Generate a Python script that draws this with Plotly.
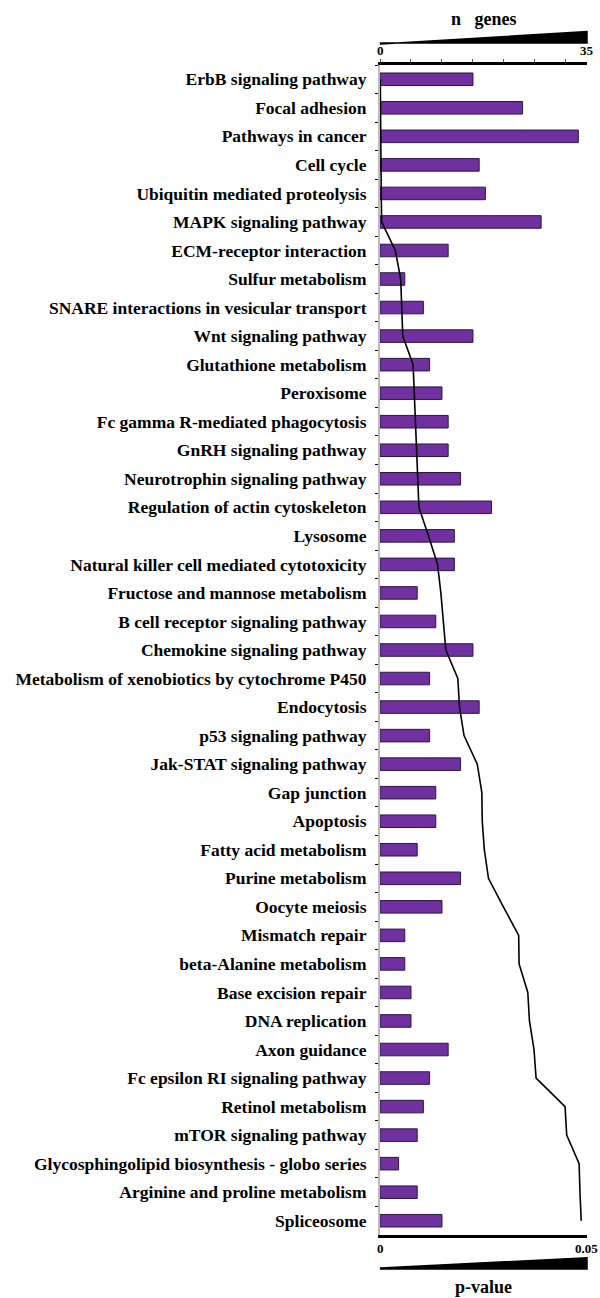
import plotly.graph_objects as go

pathways = [
    "ErbB signaling pathway", "Focal adhesion", "Pathways in cancer", "Cell cycle",
    "Ubiquitin mediated proteolysis", "MAPK signaling pathway", "ECM-receptor interaction",
    "Sulfur metabolism", "SNARE interactions in vesicular transport", "Wnt signaling pathway",
    "Glutathione metabolism", "Peroxisome", "Fc gamma R-mediated phagocytosis",
    "GnRH signaling pathway", "Neurotrophin signaling pathway", "Regulation of actin cytoskeleton",
    "Lysosome", "Natural killer cell mediated cytotoxicity", "Fructose and mannose metabolism",
    "B cell receptor signaling pathway", "Chemokine signaling pathway",
    "Metabolism of xenobiotics by cytochrome P450", "Endocytosis", "p53 signaling pathway",
    "Jak-STAT signaling pathway", "Gap junction", "Apoptosis", "Fatty acid metabolism",
    "Purine metabolism", "Oocyte meiosis", "Mismatch repair", "beta-Alanine metabolism",
    "Base excision repair", "DNA replication", "Axon guidance", "Fc epsilon RI signaling pathway",
    "Retinol metabolism", "mTOR signaling pathway", "Glycosphingolipid biosynthesis - globo series",
    "Arginine and proline metabolism", "Spliceosome",
]

n_genes = [15, 23, 32, 16, 17, 26, 11, 4, 7, 15,
           8, 10, 11, 11, 13, 18, 12, 12, 6, 9, 15,
           8, 16, 8, 13, 9, 9, 6, 13, 10, 4,
           4, 5, 5, 11, 8, 7, 6, 3, 6, 10]

p_values = [0.00007, 0.0001, 0.0002, 0.00025, 0.0003, 0.0004, 0.0037, 0.0050, 0.0052, 0.0055,
            0.0080, 0.0083, 0.0086, 0.0089, 0.0091, 0.0094, 0.0117, 0.0139, 0.0147, 0.0153, 0.0159,
            0.0188, 0.0192, 0.0203, 0.0235, 0.0246, 0.0247, 0.0252, 0.0262, 0.0298, 0.0335,
            0.0336, 0.0357, 0.0361, 0.0372, 0.0377, 0.0447, 0.0451, 0.0481, 0.0483, 0.0486]

gene_axis_max = 33.4
gene_ticks = [0, 5, 10, 15, 20, 25, 30]
p_axis_max = 0.05

FONT = "Liberation Serif"

fig = go.Figure()
fig.add_trace(go.Bar(
    x=n_genes, y=pathways, orientation="h", xaxis="x", yaxis="y",
    marker=dict(color="#7030A0", line=dict(color="#2a1840", width=1)),
    width=0.44, showlegend=False,
))
fig.add_trace(go.Scatter(
    x=p_values, y=pathways, xaxis="x2", yaxis="y", mode="lines",
    line=dict(color="black", width=1.6), showlegend=False,
))

n_cat = len(pathways)

fig.update_layout(
    width=600, height=1298,
    margin=dict(l=380, r=13, t=65, b=63),
    paper_bgcolor="white", plot_bgcolor="white",
    xaxis=dict(range=[0, gene_axis_max], side="top", showline=True, linecolor="black",
               linewidth=3, ticks="outside", ticklen=3, tickcolor="#555", tickwidth=1,
               tickvals=gene_ticks, showticklabels=False, showgrid=False, zeroline=False,
               automargin=False),
    xaxis2=dict(range=[0, p_axis_max], overlaying="x", side="bottom", anchor="y",
                showline=True, linecolor="black", linewidth=3, showticklabels=False,
                ticks="", showgrid=False, zeroline=False, automargin=False),
    yaxis=dict(type="category", range=[n_cat - 0.5, -0.5], showline=True, linecolor="#bbbbbb",
               linewidth=2, ticks="outside", tickson="boundaries", ticklen=3,
               tickcolor="black", showgrid=False, zeroline=False, automargin=False,
               tickfont=dict(family=FONT, size=17.5, color="black", weight="bold"),
               ticklabelstandoff=8),
)

shapes = [
    # top wedge (n genes)
    dict(type="path", xref="paper", yref="paper",
         path="M 0.003 1.0180 L 1 1.0285 L 1 1.0188 L 0.003 1.0188 Z",
         fillcolor="black", line=dict(color="black", width=1.5)),
    # bottom wedge (p-value)
    dict(type="path", xref="paper", yref="paper",
         path="M 0.003 -0.0282 L 1 -0.0195 L 1 -0.0290 L 0.003 -0.0290 Z",
         fillcolor="black", line=dict(color="black", width=1.5)),
]
fig.update_layout(shapes=shapes)

ann_font = dict(family=FONT, size=13, color="black", weight="bold")
annotations = [
    dict(text="0", x=0, y=1.0, xref="paper", yref="paper", xanchor="center", yanchor="bottom",
         yshift=5, showarrow=False, font=ann_font),
    dict(text="35", x=1, y=1.0, xref="paper", yref="paper", xanchor="center", yanchor="bottom",
         yshift=5, showarrow=False, font=ann_font),
    dict(text="0", x=0, y=0, xref="paper", yref="paper", xanchor="center", yanchor="top",
         yshift=-4, showarrow=False, font=ann_font),
    dict(text="0.05", x=1, y=0, xref="paper", yref="paper", xanchor="center", yanchor="top",
         xshift=-1, yshift=-4, showarrow=False, font=ann_font),
    dict(text="n\u00a0\u00a0\u00a0genes", x=0.5, y=1.0, xref="paper", yref="paper",
         xanchor="center", yanchor="middle", yshift=46, showarrow=False,
         font=dict(family=FONT, size=18, color="black", weight="bold")),
    dict(text="p-value", x=0.5, y=0, xref="paper", yref="paper",
         xanchor="center", yanchor="middle", yshift=-52, showarrow=False,
         font=dict(family=FONT, size=18, color="black", weight="bold")),
]
fig.update_layout(annotations=annotations)

fig.write_html("out.html", config={"displayModeBar": False},
               post_script="document.body.style.margin='0';document.body.style.overflow='hidden';")
